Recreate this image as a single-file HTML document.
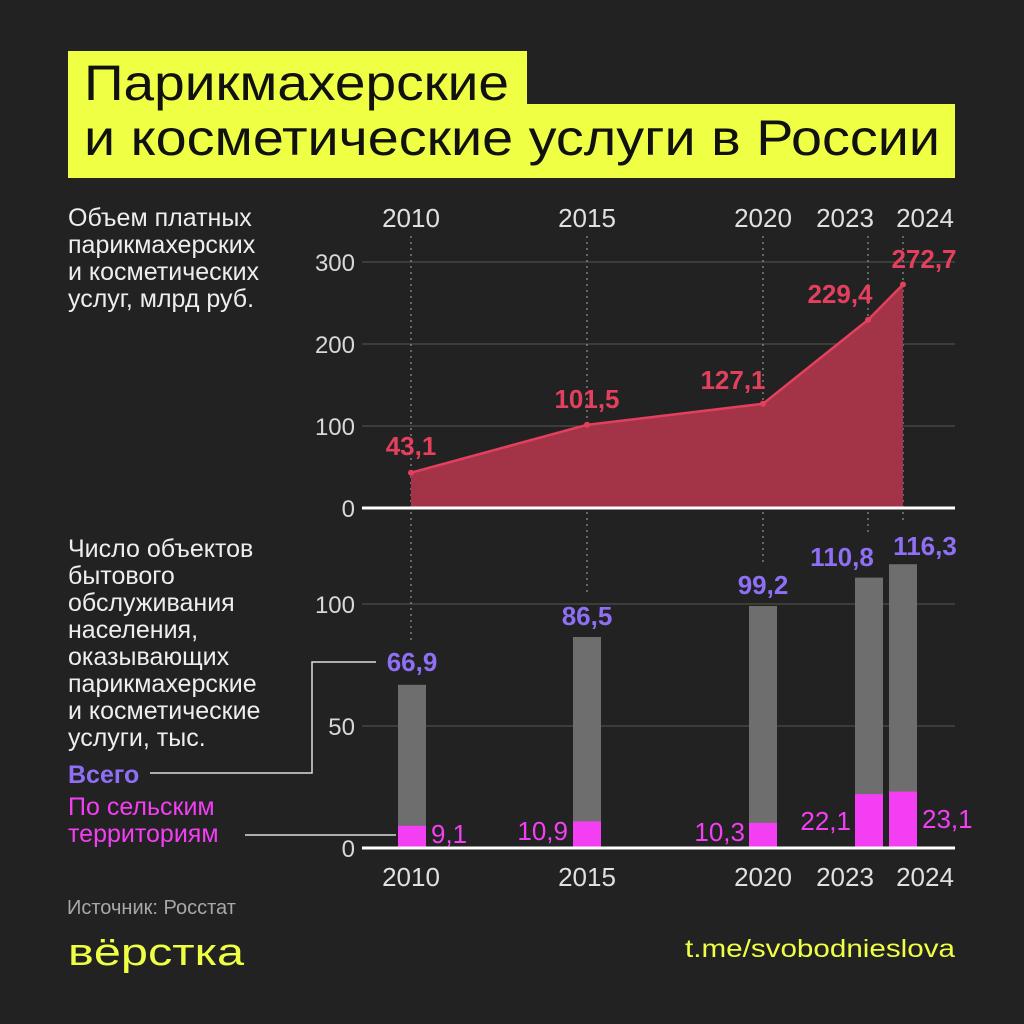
<!DOCTYPE html>
<html><head><meta charset="utf-8"><style>
html,body{margin:0;padding:0;background:#222;}
svg{display:block}
text{font-family:"Liberation Sans","DejaVu Sans",sans-serif;}
.ax{fill:#e0e0e0;font-size:26px}
.yl{fill:#d8d8d8;font-size:24px;text-anchor:end}
.rv{fill:#e4405e;font-size:26px;font-weight:bold;text-anchor:middle}
.pv{fill:#8f6ff6;font-size:26px;font-weight:bold;text-anchor:middle}
.mv{fill:#f43ef4;font-size:26px}
.lt{fill:#eee;font-size:25px}
</style></head><body>
<svg width="1024" height="1024" viewBox="0 0 1024 1024" xmlns="http://www.w3.org/2000/svg">
<rect width="1024" height="1024" fill="#222"/>
<rect x="68" y="51" width="459" height="54" fill="#eeff44"/>
<rect x="68" y="104" width="887" height="74" fill="#eeff44"/>
<text x="84" y="100" font-size="50" fill="#111" textLength="425" lengthAdjust="spacingAndGlyphs">Парикмахерские</text>
<text x="84" y="155" font-size="50" fill="#111" textLength="856" lengthAdjust="spacingAndGlyphs">и косметические услуги в России</text>

<g class="lt">
<text x="68" y="226">Объем платных</text>
<text x="68" y="253">парикмахерских</text>
<text x="68" y="280">и косметических</text>
<text x="68" y="307">услуг, млрд руб.</text>
</g>

<g class="ax" text-anchor="middle">
<text x="411" y="227">2010</text><text x="587" y="227">2015</text><text x="763" y="227">2020</text><text x="845" y="227">2023</text><text x="925" y="227">2024</text>
</g>
<g stroke="#555" stroke-width="1">
<line x1="362" y1="262" x2="955" y2="262"/><line x1="362" y1="344" x2="955" y2="344"/><line x1="362" y1="426" x2="955" y2="426"/>
<line x1="362" y1="604" x2="955" y2="604"/><line x1="362" y1="726" x2="955" y2="726"/>
</g>
<g class="yl"><text x="355" y="271">300</text><text x="355" y="353">200</text><text x="355" y="435">100</text><text x="355" y="517">0</text>
<text x="355" y="613">100</text><text x="355" y="735">50</text><text x="355" y="857">0</text></g>
<g stroke="#aaa" stroke-width="1" stroke-dasharray="2,4">
<line x1="411" y1="236" x2="411" y2="640"/><line x1="587" y1="236" x2="587" y2="595"/><line x1="763" y1="236" x2="763" y2="564"/><line x1="868" y1="236" x2="868" y2="535"/><line x1="903" y1="236" x2="903" y2="522"/>
</g>
<polygon points="411,508 411,472.7 587,424.8 763,403.8 868,319.9 903,284.5 903,508" fill="#a33447"/>
<polyline points="411,472.7 587,424.8 763,403.8 868,319.9 903,284.5" fill="none" stroke="#e4405e" stroke-width="2.5"/>
<g fill="#e4405e"><circle cx="411" cy="472.7" r="3"/><circle cx="587" cy="424.8" r="3"/><circle cx="763" cy="403.8" r="3"/><circle cx="868" cy="319.9" r="3"/><circle cx="903" cy="284.5" r="3"/></g>
<line x1="362" y1="508" x2="955" y2="508" stroke="#fff" stroke-width="3"/>
<text class="rv" x="411" y="455">43,1</text>
<text class="rv" x="587" y="408">101,5</text>
<text class="rv" x="733" y="389">127,1</text>
<text class="rv" x="840" y="303">229,4</text>
<text class="rv" x="924" y="268">272,7</text>

<g class="lt">
<text x="68" y="557">Число объектов</text>
<text x="68" y="584">бытового</text>
<text x="68" y="611">обслуживания</text>
<text x="68" y="638">населения,</text>
<text x="68" y="665">оказывающих</text>
<text x="68" y="692">парикмахерские</text>
<text x="68" y="719">и косметические</text>
<text x="68" y="746">услуги, тыс.</text>
<text x="68" y="783" fill="#8f6ff6" font-weight="bold">Всего</text>
<text x="68" y="815" fill="#f43ef4">По сельским</text>
<text x="68" y="842" fill="#f43ef4">территориям</text>
</g>
<polyline points="150,773 312,773 312,662 376,662" fill="none" stroke="#ddd" stroke-width="1.5"/>
<line x1="245" y1="835" x2="396" y2="835" stroke="#ddd" stroke-width="1.5"/>

<g fill="#6e6e6e">
<rect x="398" y="684.8" width="28" height="163.2"/><rect x="573" y="637" width="28" height="211"/><rect x="749" y="606" width="28" height="242"/><rect x="855" y="577.6" width="28" height="270.4"/><rect x="889" y="564.2" width="28" height="283.8"/>
</g>
<g fill="#f43ef4">
<rect x="398" y="825.8" width="28" height="22.2"/><rect x="573" y="821.4" width="28" height="26.6"/><rect x="749" y="822.9" width="28" height="25.1"/><rect x="855" y="794.1" width="28" height="53.9"/><rect x="889" y="791.6" width="28" height="56.4"/>
</g>
<line x1="362" y1="848" x2="955" y2="848" stroke="#fff" stroke-width="3"/>
<text class="pv" x="412" y="671">66,9</text>
<text class="pv" x="587" y="625">86,5</text>
<text class="pv" x="763" y="594">99,2</text>
<text class="pv" x="842" y="566">110,8</text>
<text class="pv" x="925" y="555">116,3</text>
<text class="mv" x="431" y="843">9,1</text>
<text class="mv" x="568" y="840" text-anchor="end">10,9</text>
<text class="mv" x="745" y="841" text-anchor="end">10,3</text>
<text class="mv" x="851" y="830" text-anchor="end">22,1</text>
<text class="mv" x="922" y="828">23,1</text>
<g class="ax" text-anchor="middle">
<text x="411" y="886">2010</text><text x="587" y="886">2015</text><text x="763" y="886">2020</text><text x="845" y="886">2023</text><text x="925" y="886">2024</text>
</g>

<text x="67" y="914" font-size="20" fill="#a8a8a8">Источник: Росстат</text>
<text x="68" y="965" font-size="38" fill="#eeff44" textLength="176" lengthAdjust="spacingAndGlyphs">вёрстка</text>
<text x="955" y="957" font-size="25" fill="#eeff44" text-anchor="end" textLength="270" lengthAdjust="spacingAndGlyphs">t.me/svobodnieslova</text>
</svg>
</body></html>
